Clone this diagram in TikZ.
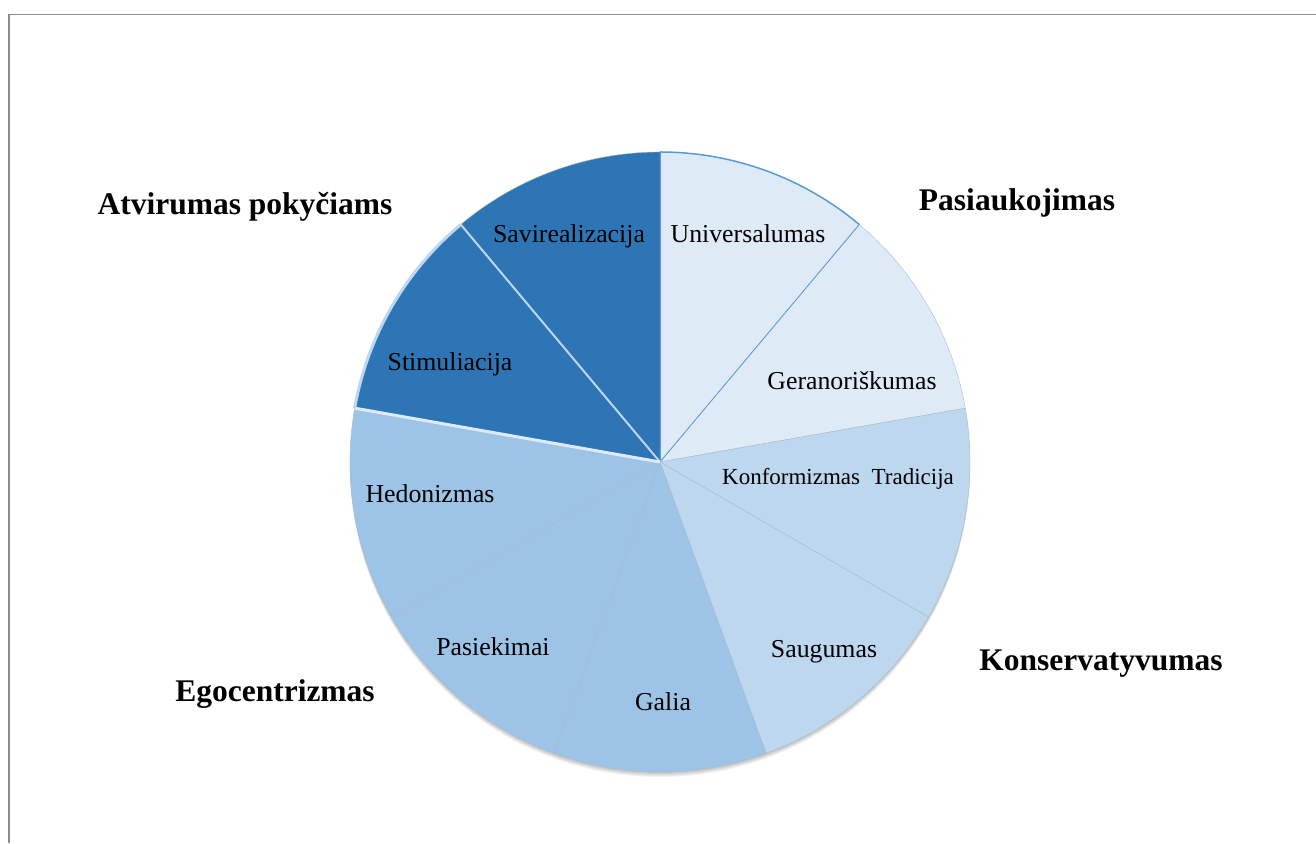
\documentclass[tikz,border=0pt]{standalone}
\usepackage{fontspec}
\setmainfont{Liberation Serif}

\definecolor{pale}{HTML}{DEEBF7}
\definecolor{mid}{HTML}{BDD7EE}
\definecolor{soft}{HTML}{9DC3E6}
\definecolor{deep}{HTML}{2E75B6}
\definecolor{rim}{HTML}{5B9BD5}
\definecolor{seam}{HTML}{A9BCCF}
\definecolor{framegray}{HTML}{8C8C8C}

\tikzset{
  slicelabel/.style={font=\fontsize{25.8}{30}\selectfont, anchor=base, inner sep=0pt},
  grouplabel/.style={font=\fontsize{31.5}{36}\selectfont\bfseries, anchor=base, inner sep=0pt},
  slice/.style={draw=seam, line width=0.4pt}
}

\begin{document}
\begin{tikzpicture}[x=1pt,y=1pt]
    \useasboundingbox (0,0) rectangle (1316,843);
    % frame of the chart area (top and left edge only)
    \draw[framegray, line width=1.5pt] (9,0) -- (9,828.5) -- (1316,828.5);

    \coordinate (c) at (660,381);

    % soft shadow under the pie
    \foreach \i in {1,...,5}
        \fill[black, opacity=0.05] ([yshift=-\i pt]c) circle (310);

    % nine slices of 40 degrees, clockwise from the top
    \foreach \a/\col in {90/pale,50/pale,10/mid,-30/mid,-70/soft,-110/soft,-150/soft,170/deep,130/deep}
        \filldraw[slice, fill=\col] (c) -- ++(\a:310) arc (\a:\a-40:310) -- cycle;

    % highlighted seams and rims
    \draw[rim, line width=0.8pt] (c) -- ++(90:310);
    \draw[rim, line width=0.8pt] (c) -- ++(50:310);
    \draw[rim, line width=1.5pt] ([shift={(90:310)}]c) arc (90:50:310);
    \draw[mid, line width=2pt] (c) -- ++(130:310);
    \draw[pale, line width=3pt] (c) -- ++(170:310);
    \draw[mid, line width=3pt] ([shift={(170:310)}]c) arc (170:130:310);

    % slice labels
    \node[slicelabel] (univ) at (748,600) {Universalumas};
    \node[slicelabel] (savi) at (569,600) {Savirealizacija};
    \node[slicelabel] (stim) at (450,472) {Stimuliacija};
    \node[slicelabel] (gera) at (852,453) {Geranoriškumas};
    \node[slicelabel, font=\fontsize{23}{28}\selectfont] (konf) at (838,358) {Konformizmas\enspace Tradicija};
    \node[slicelabel] (hedo) at (430,340) {Hedonizmas};
    \node[slicelabel] (saug) at (824,185) {Saugumas};
    \node[slicelabel] (pasi) at (493,187) {Pasiekimai};
    \node[slicelabel] (gali) at (663,132) {Galia};

    % group labels
    \node[grouplabel] (atvi) at (245,628) {Atvirumas pokyčiams};
    \node[grouplabel] (pasiau) at (1017,632) {Pasiaukojimas};
    \node[grouplabel] (kons) at (1101,172) {Konservatyvumas};
    \node[grouplabel] (ego) at (275,141) {Egocentrizmas};
\end{tikzpicture}
\end{document}
